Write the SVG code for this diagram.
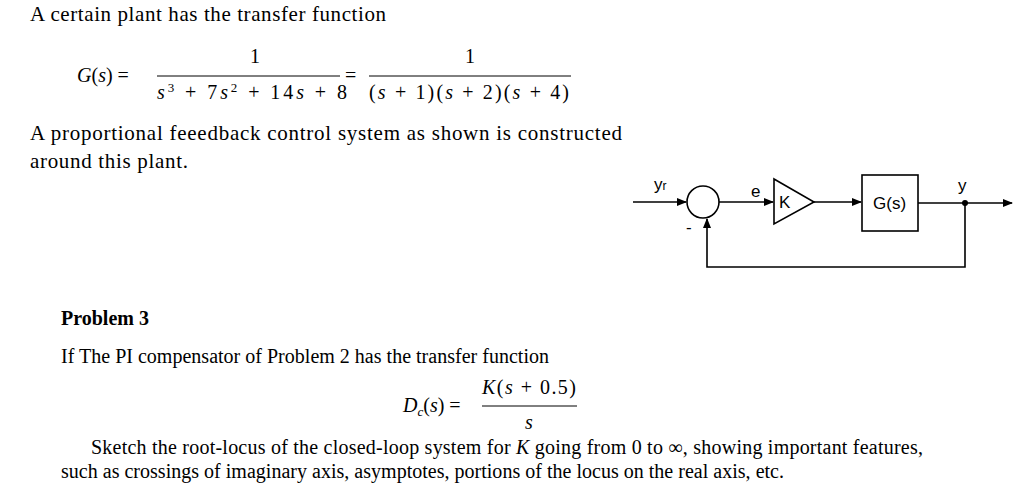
<svg xmlns="http://www.w3.org/2000/svg" width="1024" height="495" viewBox="0 0 1024 495">
<defs>
<style>
.t{font-family:"Liberation Serif",serif;font-size:21px;fill:#000}
.m{font-family:"Liberation Serif",serif;font-size:20px;fill:#000}
.i{font-style:italic}
.h{font-family:"Liberation Sans",sans-serif;font-size:17px;fill:#000}
.l{stroke:#000;stroke-width:1.6;fill:none}
</style>
<marker id="a" markerWidth="10" markerHeight="8" refX="9" refY="4" orient="auto" markerUnits="userSpaceOnUse"><path d="M0,0 L10,4 L0,8 Z" fill="#000"/></marker>
</defs>
<rect width="1024" height="495" fill="#fff"/>
<text class="t" x="30" y="21" textLength="356" lengthAdjust="spacing">A certain plant has the transfer function</text>
<text class="m" x="77" y="82"><tspan class="i">G</tspan>(<tspan class="i">s</tspan>) =</text>
<text class="m" x="255" y="63" text-anchor="middle">1</text>
<line x1="157" y1="76" x2="340" y2="76" stroke="#000" stroke-width="1"/>
<text class="m" x="157" y="99" textLength="190" lengthAdjust="spacing"><tspan class="i">s</tspan><tspan font-size="13" dy="-7">3</tspan><tspan dy="7"> + 7</tspan><tspan class="i">s</tspan><tspan font-size="13" dy="-7">2</tspan><tspan dy="7"> + 14</tspan><tspan class="i">s</tspan> + 8</text>
<text class="m" x="345" y="82">=</text>
<text class="m" x="470" y="63" text-anchor="middle">1</text>
<line x1="369" y1="76" x2="571" y2="76" stroke="#000" stroke-width="1"/>
<text class="m" x="369" y="99" textLength="200" lengthAdjust="spacing">(<tspan class="i">s</tspan> + 1)(<tspan class="i">s</tspan> + 2)(<tspan class="i">s</tspan> + 4)</text>
<text class="t" x="30" y="140" textLength="592" lengthAdjust="spacing">A proportional feeedback control system as shown is constructed</text>
<text class="t" x="30" y="168" textLength="158" lengthAdjust="spacing">around this plant.</text>
<g id="connectors">
<line class="l" x1="633" y1="202" x2="686" y2="202" marker-end="url(#a)"/>
<line class="l" x1="719" y1="202" x2="773" y2="202" marker-end="url(#a)"/>
<line class="l" x1="814" y1="202" x2="861" y2="202" marker-end="url(#a)"/>
<line class="l" x1="918" y1="203" x2="1012" y2="203" marker-end="url(#a)"/>
<polyline class="l" points="965,203 965,267 707,267 707,219" marker-end="url(#a)"/>
<circle cx="965" cy="203" r="3" fill="#000"/>
</g>
<g id="sum"><circle class="l" cx="703" cy="202" r="16"/></g>
<g id="gain"><polygon class="l" points="774,179 814,202 774,224"/><text class="h" x="779" y="208">K</text></g>
<g id="plant"><rect class="l" x="862" y="175" width="56" height="56"/><text class="h" x="873" y="209">G(s)</text></g>
<text class="h" x="654" y="190">y<tspan font-size="12">r</tspan></text>
<text class="h" x="751" y="197">e</text>
<text class="h" x="958" y="191">y</text>
<text class="h" x="686" y="233">-</text>
<text x="61" y="325" font-family="Liberation Serif,serif" font-size="20" font-weight="bold">Problem 3</text>
<text class="m" x="61" y="363" textLength="488" lengthAdjust="spacing">If The PI compensator of Problem 2 has the transfer function</text>
<text class="m" x="403" y="412"><tspan class="i">D</tspan><tspan font-size="13" dy="4" class="i">c</tspan><tspan dy="-4">(</tspan><tspan class="i">s</tspan>) =</text>
<text class="m" x="482" y="394" textLength="94" lengthAdjust="spacing"><tspan class="i">K</tspan>(<tspan class="i">s</tspan> + 0.5)</text>
<line x1="482" y1="406" x2="577" y2="406" stroke="#000" stroke-width="1"/>
<text class="m i" x="529" y="429" text-anchor="middle">s</text>
<text class="m" x="91" y="454" textLength="832" lengthAdjust="spacing">Sketch the root-locus of the closed-loop system for <tspan class="i">K</tspan> going from 0 to ∞, showing important features,</text>
<text class="m" x="61" y="478" textLength="723" lengthAdjust="spacing">such as crossings of imaginary axis, asymptotes, portions of the locus on the real axis, etc.</text>
</svg>
